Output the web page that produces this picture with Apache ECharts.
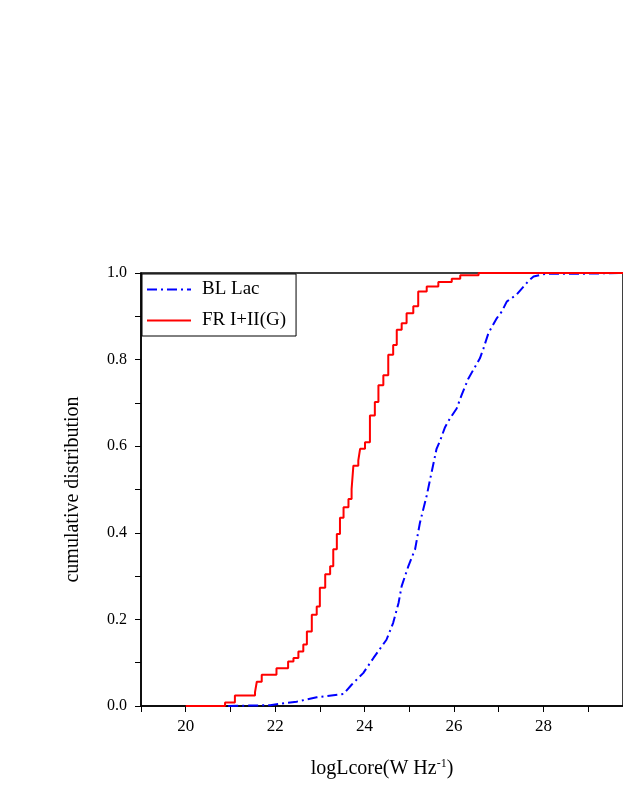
<!DOCTYPE html>
<html><head><meta charset="utf-8">
<script src="https://cdn.jsdelivr.net/npm/echarts@6/dist/echarts.min.js"></script>
<style>html,body{margin:0;padding:0;background:#fff}#c{width:623px;height:806px}</style>
</head><body><div id="c"></div>
<script>
const frX = [20.0,20.88,21.10,21.55,21.59,21.70,22.03,22.29,22.41,22.52,22.63,22.71,22.82,22.93,23.00,23.12,23.23,23.30,23.38,23.45,23.53,23.64,23.71,23.75,23.86,23.90,24.01,24.12,24.23,24.31,24.42,24.53,24.64,24.72,24.83,24.94,25.09,25.20,25.39,25.65,25.95,26.14,26.55,29.78];
const frY = [0,0.008,0.024,0.032,0.056,0.072,0.087,0.103,0.111,0.126,0.142,0.172,0.211,0.230,0.273,0.304,0.323,0.362,0.397,0.435,0.459,0.478,0.501,0.555,0.567,0.594,0.609,0.671,0.702,0.741,0.764,0.811,0.834,0.869,0.884,0.907,0.923,0.957,0.969,0.979,0.987,0.995,1.0,1.0];
const blX = [20.95,21.89,22.48,22.93,23.53,23.71,23.97,24.20,24.49,24.64,24.76,24.83,24.98,25.13,25.24,25.39,25.50,25.61,25.69,25.80,25.91,26.06,26.17,26.32,26.43,26.58,26.66,26.77,26.96,27.07,27.18,27.40,27.66,27.78,28.04,28.67,29.78];
const blY = [0,0.002,0.010,0.020,0.028,0.049,0.076,0.111,0.153,0.192,0.238,0.277,0.323,0.362,0.424,0.486,0.540,0.594,0.613,0.644,0.664,0.687,0.718,0.756,0.776,0.803,0.826,0.861,0.896,0.911,0.934,0.950,0.981,0.992,0.998,0.998,1.0];
const F = 'Liberation Serif';
const chart = echarts.init(document.getElementById('c'));
chart.setOption({
  animation:false,
  grid:{left:141,right:0,top:273,bottom:100,show:true,borderColor:'#000',borderWidth:1.5},
  legend:{left:142,top:274,orient:'vertical',itemWidth:44,itemHeight:12,itemGap:12,
    itemStyle:{opacity:0},
    backgroundColor:'#fff',borderColor:'#000',borderWidth:1,borderRadius:0,padding:[6,10,6,4],
    textStyle:{fontFamily:F,fontSize:19,color:'#000',padding:[0,0,0,6]},data:['BL Lac','FR I+II(G)']},
  xAxis:{type:'value',min:19,max:29.78,interval:1,
    axisLine:{onZero:false,lineStyle:{color:'#000',width:1.5}},
    axisTick:{inside:false,length:6,lineStyle:{color:'#000'}},
    splitLine:{show:false},
    axisLabel:{margin:12,fontFamily:F,fontSize:17,color:'#000',showMaxLabel:false,
      formatter:v=>(v%2===0&&v>=20&&v<=28)?String(v):''},
    name:'logLcore(W Hz{s|-1})',nameLocation:'middle',nameGap:52,
    nameTextStyle:{fontFamily:F,fontSize:20,color:'#000',rich:{s:{fontFamily:F,fontSize:12,verticalAlign:'top',padding:[0,0,10,0]}}}},
  yAxis:{type:'value',min:0,max:1,interval:0.1,
    axisLine:{lineStyle:{color:'#000',width:1.5}},
    axisTick:{inside:false,length:6,lineStyle:{color:'#000'}},
    splitLine:{show:false},
    axisLabel:{margin:14,fontFamily:F,fontSize:16,color:'#000',
      formatter:v=>{const r=Math.round(v*10);return r%2===0?(r/10).toFixed(1):'';}},
    name:'cumulative distribution',nameLocation:'middle',nameGap:58,
    nameTextStyle:{fontFamily:F,fontSize:20,color:'#000'}},
  series:[
    {name:'BL Lac',type:'line',showSymbol:false,symbol:'none',
      data:blX.map((x,i)=>[x,blY[i]]),
      lineStyle:{color:'#0000ff',width:2,type:[10,4,2,4]},itemStyle:{color:'#0000ff'}},
    {name:'FR I+II(G)',type:'line',step:'end',showSymbol:false,symbol:'none',
      data:frX.map((x,i)=>[x,frY[i]]),
      lineStyle:{color:'#ff0000',width:2},itemStyle:{color:'#ff0000'}}
  ]
});
</script></body></html>
